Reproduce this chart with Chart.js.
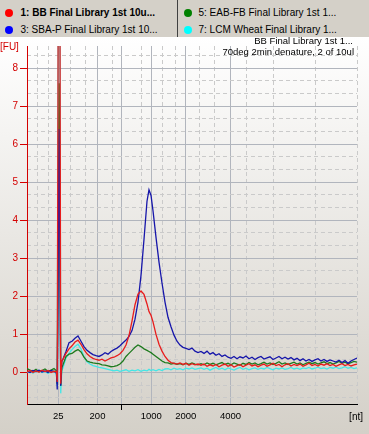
<!DOCTYPE html>
<html>
<head>
<meta charset="utf-8">
<script src="https://cdn.jsdelivr.net/npm/chart.js@4.4.1/dist/chart.umd.min.js"></script>
<style>
  html, body { margin: 0; padding: 0; background: #d4d0c8; }
  #wrap { position: relative; width: 369px; height: 434px; overflow: hidden; }
  #plot { position: absolute; left: 0; top: 0; }
  #legend { position: absolute; left: 0; top: 0; width: 369px; height: 37px; background: #d4d0c8;
            font: 10px 'Liberation Sans', Arial, sans-serif; color: #000; }
  #legend .dot { position: absolute; width: 8px; height: 8px; border-radius: 50%; }
  #legend .txt { position: absolute; white-space: nowrap; line-height: 12px; }
  #sep { position: absolute; left: 177px; top: 0; width: 1px; height: 37px; background: #404040; }
</style>
</head>
<body>
<div id="wrap">
  <canvas id="plot" width="369" height="434"></canvas>
  <div id="legend"><div id="sep"></div></div>
</div>
<script>
// sample names (legend) and run info
const seriesNames = ['1: BB Final Library 1st 10u...', '3: SBA-P Final Library 1st 10...',
                     '5: EAB-FB Final Library 1st 1...', '7: LCM Wheat Final Library 1...'];
const runInfo = ['BB Final Library 1st 1...', '70deg 2min denature, 2 of 10ul'];

// size ladder: nt -> migration time (s)
const ladderSizes = [25, 200, 500, 1000, 2000, 4000];
const ladderTimes = [23.22, 29.75, 33.75, 38.72, 44.45, 51.92];
const minorTimes = [19.67, 21.5, 25.17, 27.67, 32.33, 37.0, 40.5, 42.67, 46.83, 49.33, 54.5, 59.0, 66.0, 73.0];

const fuTicks = [0, 1, 2, 3, 4, 5, 6, 7, 8];
const fuMinor = [-0.667, -0.333, 0.333, 0.667, 1.333, 1.667, 2.333, 2.667, 3.333, 3.667, 4.333, 4.667,
                 5.333, 5.667, 6.333, 6.667, 7.333, 7.667, 8.333];

// migration time (s)
const times = [
  18, 18.5, 19, 19.5, 20, 20.5, 21, 21.5, 22, 22.5, 22.9,
  23.04, 23.36, 23.62, 23.8,
  24, 24.5, 25, 25.5, 26, 26.5, 27, 27.5, 28, 28.5,
  29, 29.5, 30, 30.5, 31, 31.5, 32, 32.5, 33, 33.5,
  34, 34.5, 35, 35.5, 36, 36.5, 37, 37.5, 38, 38.33, 38.67,
  39, 39.5, 40, 40.5, 41, 41.5, 42, 42.5, 43, 43.5, 44, 44.5, 45, 45.5, 46, 46.5,
  47, 47.5, 48, 48.5, 49, 49.5, 50, 50.5, 51, 51.5, 52, 52.5, 53, 53.5, 54, 54.5, 55, 55.5,
  56, 56.5, 57, 57.5, 58, 58.5, 59, 59.5, 60, 60.5, 61, 61.5, 62, 62.5, 63, 63.5, 64, 64.5,
  65, 65.5, 66, 66.5, 67, 67.5, 68, 68.5, 69, 69.5, 70, 70.5, 71, 71.5, 72, 72.5, 73
];

// fluorescence [FU]
const bbFinal = [
  0.02, 0.05, 0.0, 0.04, 0.01, 0.06, 0.02, 0.05, 0.0, 0.03, 0.02,
  -0.25, 20, -0.3, 0.3,
  0.35, 0.5, 0.62, 0.7, 0.8, 0.85, 0.74, 0.6, 0.49, 0.42,
  0.37, 0.34, 0.32, 0.35, 0.3, 0.34, 0.38, 0.4, 0.44, 0.49,
  0.58, 0.72, 0.97, 1.35, 1.78, 2.06, 2.14, 2.05, 1.8, 1.6, 1.5,
  1.33, 1.0, 0.74, 0.56, 0.42, 0.32, 0.26, 0.24, 0.22, 0.25, 0.21, 0.24, 0.19, 0.23, 0.2, 0.22,
  0.19, 0.22, 0.16, 0.2, 0.17, 0.21, 0.15, 0.19, 0.22, 0.16, 0.2, 0.14, 0.18, 0.21, 0.15, 0.19, 0.23, 0.17,
  0.2, 0.15, 0.19, 0.22, 0.16, 0.2, 0.24, 0.18, 0.21, 0.15, 0.2, 0.23, 0.17, 0.21, 0.18, 0.22, 0.16, 0.2,
  0.24, 0.18, 0.21, 0.17, 0.22, 0.19, 0.23, 0.18, 0.21, 0.16, 0.2, 0.23, 0.18, 0.21, 0.17, 0.2, 0.22
];
const sbaP = [
  0.03, 0.0, 0.05, 0.02, 0.06, 0.01, 0.04, 0.0, 0.05, 0.02, 0.0,
  -0.45, 6.4, -0.35, 0.28,
  0.35, 0.55, 0.78, 0.82, 0.9, 0.96, 0.82, 0.68, 0.58, 0.52,
  0.47, 0.44, 0.42, 0.46, 0.52, 0.48, 0.55, 0.6, 0.64, 0.7,
  0.78, 0.85, 0.95, 1.1, 1.4, 1.85, 2.55, 3.5, 4.5, 4.8, 4.65,
  4.25, 3.55, 2.9, 2.35, 1.85, 1.45, 1.2, 0.98, 0.82, 0.72, 0.66, 0.63, 0.6, 0.64, 0.56, 0.52,
  0.55, 0.5, 0.56, 0.48, 0.52, 0.45, 0.49, 0.42, 0.46, 0.4, 0.37, 0.42, 0.36, 0.41, 0.38, 0.43, 0.36, 0.4,
  0.34, 0.39, 0.42, 0.35, 0.38, 0.41, 0.34, 0.38, 0.42, 0.36, 0.4, 0.35, 0.39, 0.33, 0.37, 0.31, 0.36, 0.3,
  0.34, 0.29, 0.33, 0.36, 0.3, 0.34, 0.29, 0.33, 0.3, 0.27, 0.32, 0.26, 0.31, 0.24, 0.3, 0.34, 0.38
];
const eabFb = [
  0.1, 0.06, 0.03, 0.08, 0.02, 0.05, 0.09, 0.03, 0.06, 0.1, 0.04,
  -0.3, 7.6, -0.35, 0.12,
  0.2, 0.42, 0.48, 0.5, 0.56, 0.6, 0.54, 0.4, 0.3, 0.27,
  0.25, 0.24, 0.23, 0.2, 0.19, 0.17, 0.15, 0.16, 0.18, 0.22,
  0.3, 0.42, 0.5, 0.58, 0.66, 0.72, 0.68, 0.62, 0.58, 0.55, 0.52,
  0.48, 0.42, 0.36, 0.3, 0.26, 0.25, 0.22, 0.24, 0.21, 0.23, 0.2, 0.24, 0.21, 0.25, 0.22, 0.2,
  0.23, 0.2, 0.25, 0.21, 0.24, 0.2, 0.23, 0.26, 0.21, 0.24, 0.2, 0.25, 0.22, 0.19, 0.24, 0.21, 0.26, 0.22,
  0.25, 0.2, 0.23, 0.27, 0.22, 0.25, 0.21, 0.24, 0.28, 0.22, 0.25, 0.21, 0.24, 0.27, 0.22, 0.25, 0.2, 0.24,
  0.27, 0.23, 0.26, 0.22, 0.25, 0.28, 0.23, 0.26, 0.22, 0.25, 0.29, 0.24, 0.27, 0.23, 0.26, 0.29, 0.27
];
const lcmWheat = [
  0.0, 0.04, -0.02, 0.03, 0.06, 0.0, 0.03, -0.03, 0.02, 0.05, -0.05,
  -0.35, 18, -0.55, 0.05,
  0.12, 0.38, 0.5, 0.6, 0.68, 0.74, 0.62, 0.42, 0.28, 0.22,
  0.18, 0.16, 0.13, 0.12, 0.1, 0.08, 0.06, 0.04, 0.06, 0.03,
  0.05, 0.07, 0.03, 0.06, 0.04, 0.07, 0.03, 0.06, 0.04, 0.08, 0.05,
  0.07, 0.04, 0.08, 0.05, 0.09, 0.1, 0.07, 0.11, 0.08, 0.1, 0.07, 0.11, 0.09, 0.12, 0.08, 0.1,
  0.12, 0.08, 0.11, 0.06, 0.1, 0.13, 0.08, 0.11, 0.07, 0.12, 0.09, 0.06, 0.1, 0.13, 0.08, 0.11, 0.07, 0.1,
  0.12, 0.08, 0.11, 0.09, 0.13, 0.1, 0.07, 0.11, 0.09, 0.12, 0.08, 0.1, 0.13, 0.09, 0.11, 0.08, 0.12, 0.1,
  0.13, 0.09, 0.11, 0.14, 0.1, 0.12, 0.09, 0.13, 0.11, 0.14, 0.1, 0.12, 0.15, 0.11, 0.13, 0.1, 0.12
];

const traces = [bbFinal, sbaP, eabFb, lcmWheat];
const lineColors = ['#e81c1c', '#1616aa', '#1e7a1e', '#44e6e6'];
const dotColors = ['#ff0000', '#0000ff', '#008000', '#00ffff'];

const FONT = "'Liberation Sans', Arial, sans-serif";
Chart.defaults.font.family = FONT;

// legend header
const legend = document.getElementById('legend');
const slots = [[9, 20.5, 12.5], [9, 20.5, 30], [188, 198.5, 12.5], [188, 198.5, 30]];
seriesNames.forEach((name, i) => {
  const [dx, tx, cy] = slots[i];
  const dot = document.createElement('div');
  dot.className = 'dot';
  dot.style.left = (dx - 4) + 'px';
  dot.style.top = (cy - 4) + 'px';
  dot.style.background = dotColors[i];
  legend.appendChild(dot);
  const txt = document.createElement('div');
  txt.className = 'txt';
  txt.style.left = tx + 'px';
  txt.style.top = (cy - 6) + 'px';
  if (i === 0) txt.style.fontWeight = 'bold';
  txt.textContent = name;
  legend.appendChild(txt);
});

const yMin = -0.83, yMax = 8.58, xMin = 18, xMax = 73;
const GRID = '#b1b5bd';
const MINOR = '#cacaca';
const RED = '#d40000';

const backdrop = {
  id: 'backdrop',
  beforeDraw(chart) {
    const { ctx, width, height } = chart;
    const g = ctx.createLinearGradient(0, 37, 0, height);
    g.addColorStop(0, '#ffffff');
    g.addColorStop(1, '#d4d0c8');
    ctx.save();
    ctx.fillStyle = g;
    ctx.fillRect(0, 37, width, height - 37);
    ctx.restore();
  },
  afterDraw(chart) {
    const ctx = chart.ctx;
    ctx.save();
    ctx.font = '9.5px ' + FONT;
    ctx.textBaseline = 'middle';
    ctx.fillStyle = '#000';
    ctx.textAlign = 'right';
    ctx.fillText(runInfo[0], 353, 41);
    ctx.fillText(runInfo[1], 354, 52.5);
    ctx.font = '10px ' + FONT;
    ctx.fillText('[nt]', 363, 417);
    ctx.fillStyle = RED;
    ctx.textAlign = 'left';
    ctx.fillText('[FU]', 0, 47.5);
    ctx.restore();
  }
};

new Chart(document.getElementById('plot'), {
  type: 'line',
  data: {
    datasets: traces.map((vals, i) => ({
      label: seriesNames[i],
      data: times.map((t, j) => ({ x: t, y: vals[j] })),
      borderColor: lineColors[i],
      borderWidth: 1.3,
      pointRadius: 0,
      tension: 0,
      fill: false
    }))
  },
  options: {
    responsive: false,
    animation: false,
    layout: { padding: { top: 46, right: 12, left: 0, bottom: 0 } },
    plugins: { legend: { display: false }, tooltip: { enabled: false } },
    scales: {
      x: {
        type: 'linear', min: xMin, max: xMax,
        afterBuildTicks: s => { s.ticks = ladderTimes.map(v => ({ value: v })); },
        afterFit: s => { s.height = 30; },
        grid: {
          color: GRID, tickLength: 6,
          tickColor: c => ladderSizes[c.index] === 500 ? '#000' : 'rgba(0,0,0,0)'
        },
        border: { color: '#000', width: 1 },
        ticks: {
          color: '#000', padding: 1, autoSkip: false, maxRotation: 0,
          font: { size: 9.5 },
          callback: (v, i) => ladderSizes[i] === 500 ? '' : String(ladderSizes[i])
        }
      },
      xMinor: {
        type: 'linear', position: 'bottom', min: xMin, max: xMax,
        afterBuildTicks: s => { s.ticks = minorTimes.map(v => ({ value: v })); },
        afterFit: s => { s.height = 0; },
        ticks: { display: false },
        grid: { color: MINOR, drawTicks: false },
        border: { display: false, dash: [4, 3] }
      },
      y: {
        min: yMin, max: yMax,
        afterBuildTicks: s => { s.ticks = fuTicks.map(v => ({ value: v })); },
        afterFit: s => { s.width = 27; },
        grid: { color: GRID, tickColor: RED, tickLength: 7 },
        border: { color: RED, width: 1 },
        ticks: { color: RED, padding: 2, font: { size: 10 } }
      },
      yMinor: {
        position: 'left', min: yMin, max: yMax,
        afterBuildTicks: s => { s.ticks = fuMinor.map(v => ({ value: v })); },
        afterFit: s => { s.width = 0; },
        ticks: { display: false },
        grid: { color: MINOR, drawTicks: false },
        border: { display: false, dash: [4, 3] }
      }
    }
  },
  plugins: [backdrop]
});
</script>
</body>
</html>
